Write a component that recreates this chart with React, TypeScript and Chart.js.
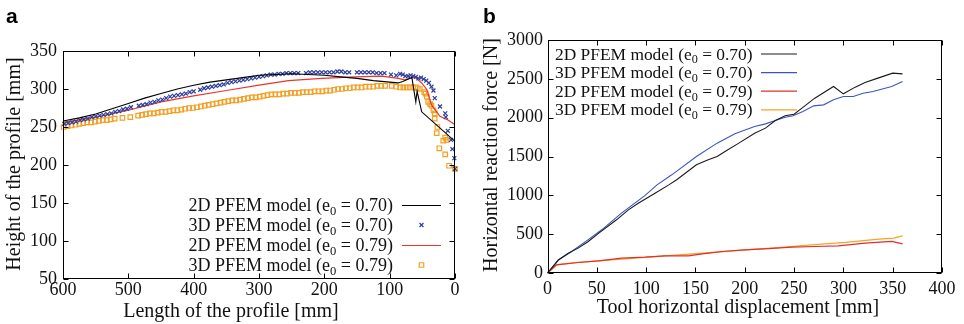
import { useEffect, useRef } from 'react';
import { Chart, registerables } from 'chart.js';

Chart.register(...registerables);

const SERIF = "'Liberation Serif', 'Times New Roman', serif";
const SANS = "'Liberation Sans', Arial, sans-serif";

type Pt = [number, number];

// ---------- Panel a : profile height vs length ----------
const seriesLabels = [
  '2D PFEM model (e₀ = 0.70)',
  '3D PFEM model (e₀ = 0.70)',
  '2D PFEM model (e₀ = 0.79)',
  '3D PFEM model (e₀ = 0.79)',
];
const profileXTicks = [600, 500, 400, 300, 200, 100, 0];
const profileYTicks = [50, 100, 150, 200, 250, 300, 350];

const profile2D070: Pt[] = [
  [600, 258], [575, 262], [550, 267], [525, 274], [500, 281], [475, 288], [450, 294], [425, 300],
  [400, 305], [375, 309], [350, 312], [325, 315], [300, 318], [275, 319], [250, 320], [225, 319],
  [200, 318], [175, 316], [150, 314], [125, 311], [100, 309], [87, 308], [80, 310], [66, 315],
  [60, 283], [58, 297], [51, 270], [0, 231],
];
const profile3D070: Pt[] = [
  [598, 254], [592, 255], [586, 256], [580, 257], [574, 259], [568, 260], [562, 261], [556, 263],
  [550, 264], [544, 265], [538, 266], [532, 267], [526, 268], [520, 270], [514, 271], [508, 273],
  [502, 274], [496, 276], [484, 278], [478, 279], [472, 280], [466, 282], [460, 283], [454, 285],
  [448, 286], [442, 288], [436, 290], [430, 291], [424, 292], [418, 293], [412, 294], [406, 296],
  [400, 297], [390, 299], [384, 301], [378, 302], [372, 303], [366, 304], [360, 305], [354, 306],
  [348, 308], [342, 309], [336, 310], [330, 311], [324, 312], [318, 313], [312, 314], [306, 315],
  [300, 316], [294, 317], [288, 318], [282, 319], [276, 319], [270, 320], [264, 320], [258, 321],
  [252, 321], [246, 321], [240, 321], [228, 321], [222, 322], [216, 322], [210, 322], [204, 322],
  [198, 322], [192, 322], [186, 322], [180, 323], [174, 323], [168, 322], [162, 322], [150, 322],
  [144, 322], [138, 322], [132, 322], [126, 322], [120, 321], [114, 321], [108, 321], [98, 319],
  [90, 318], [84, 320], [80, 319], [76, 317], [72, 317], [68, 318], [64, 317], [60, 316],
  [56, 314], [52, 315], [48, 313], [44, 311], [40, 308], [36, 303], [33, 298], [31, 288],
  [23, 277], [15, 268], [14, 263], [11, 245], [6, 233], [4, 221], [1, 209], [0, 195],
];
const profile2D079: Pt[] = [
  [600, 256], [550, 263], [500, 272], [450, 283], [400, 291], [350, 298], [300, 305], [255, 311],
  [204, 314], [153, 316], [112, 317], [87, 314], [77, 312], [62, 316], [51, 308], [43, 299],
  [36, 279], [23, 264], [10, 259], [0, 253],
];
const profile3D079: Pt[] = [
  [599, 250], [593, 251], [587, 252], [581, 253], [575, 254], [569, 255], [563, 256], [557, 256],
  [551, 257], [545, 258], [539, 259], [533, 259], [527, 260], [521, 261], [509, 262], [497, 263],
  [485, 265], [479, 266], [473, 267], [467, 268], [461, 268], [455, 269], [449, 270], [443, 270],
  [437, 271], [431, 272], [425, 272], [419, 273], [413, 274], [407, 275], [401, 275], [395, 276],
  [389, 277], [383, 278], [377, 279], [371, 280], [365, 281], [359, 282], [353, 283], [347, 284],
  [341, 285], [335, 285], [329, 286], [323, 287], [317, 288], [311, 289], [305, 289], [299, 290],
  [293, 291], [287, 292], [281, 293], [275, 293], [269, 293], [263, 294], [257, 294], [251, 295],
  [245, 295], [239, 295], [233, 296], [227, 296], [221, 296], [215, 297], [209, 297], [203, 297],
  [197, 298], [191, 298], [185, 299], [179, 300], [173, 300], [167, 301], [161, 301], [155, 302],
  [149, 302], [143, 302], [137, 303], [131, 303], [125, 303], [119, 304], [113, 304], [107, 304],
  [97, 304], [90, 303], [84, 302], [79, 302], [74, 302], [69, 302], [64, 302], [60, 302],
  [57, 301], [54, 300], [47, 296], [45, 294], [43, 290], [41, 283], [38, 280], [36, 278],
  [33, 272], [31, 268], [31, 261], [27, 250], [28, 242], [15, 236], [13, 233], [18, 232],
  [24, 222], [15, 214], [9, 199], [0, 195],
];

// ---------- Panel b : horizontal reaction force vs displacement ----------
const forceXTicks = [0, 50, 100, 150, 200, 250, 300, 350, 400];
const forceYTicks = [0, 500, 1000, 1500, 2000, 2500, 3000];

const force2D070: Pt[] = [
  [0, 0], [11, 167], [21, 255], [31, 320], [41, 403], [52, 513], [70, 685], [82, 813], [92, 899],
  [109, 1028], [123, 1135], [131, 1200], [151, 1393], [163, 1457], [172, 1500], [180, 1564],
  [194, 1672], [210, 1800], [221, 1865], [231, 1963], [241, 2024], [250, 2045], [258, 2123],
  [271, 2251], [290, 2401], [300, 2307], [312, 2393], [322, 2453], [335, 2509], [350, 2573],
  [360, 2564],
];
const force3D070: Pt[] = [
  [0, 0], [11, 167], [23, 264], [41, 427], [55, 556], [75, 771], [99, 1000], [111, 1135],
  [126, 1264], [151, 1500], [172, 1672], [190, 1792], [210, 1886], [221, 1920], [231, 1963],
  [241, 2006], [249, 2024], [259, 2079], [270, 2152], [280, 2165], [290, 2230], [300, 2272],
  [310, 2272], [320, 2315], [330, 2337], [349, 2401], [360, 2466],
];
const force2D079: Pt[] = [
  [0, 0], [9, 105], [31, 135], [52, 156], [75, 191], [99, 204], [119, 221], [143, 221], [157, 247],
  [177, 277], [200, 298], [224, 315], [248, 333], [271, 341], [295, 350], [322, 384], [349, 406],
  [360, 376],
];
const force3D079: Pt[] = [
  [0, 0], [10, 109], [31, 138], [65, 170], [99, 200], [133, 234], [167, 264], [200, 298],
  [234, 328], [268, 363], [302, 393], [336, 436], [351, 448], [360, 479],
];

const toXY = (pts: Pt[]) => pts.map(([x, y]) => ({ x, y }));

function drawRich(ctx: CanvasRenderingContext2D, text: string, x: number, baseline: number, size: number, align: 'left' | 'right') {
  const i = text.indexOf('₀');
  const a = i >= 0 ? text.slice(0, i) : text;
  const b = i >= 0 ? text.slice(i + 1) : '';
  const sub = i >= 0 ? '0' : '';
  ctx.font = `${size}px ${SERIF}`;
  const wa = ctx.measureText(a).width;
  const wb = ctx.measureText(b).width;
  ctx.font = `${size * 0.7}px ${SERIF}`;
  const ws = ctx.measureText(sub).width;
  const total = wa + ws + wb;
  const x0 = align === 'right' ? x - total : x;
  ctx.textAlign = 'left';
  ctx.textBaseline = 'alphabetic';
  ctx.font = `${size}px ${SERIF}`;
  ctx.fillText(a, x0, baseline);
  ctx.font = `${size * 0.7}px ${SERIF}`;
  ctx.fillText(sub, x0 + wa, baseline + size * 0.22);
  ctx.font = `${size}px ${SERIF}`;
  ctx.fillText(b, x0 + wa + ws, baseline);
}

function drawMarker(ctx: CanvasRenderingContext2D, style: string, cx: number, cy: number, r: number) {
  const h = r * Math.SQRT1_2;
  ctx.beginPath();
  if (style === 'crossRot') {
    ctx.moveTo(cx - h, cy - h); ctx.lineTo(cx + h, cy + h);
    ctx.moveTo(cx - h, cy + h); ctx.lineTo(cx + h, cy - h);
  } else {
    ctx.rect(cx - h, cy - h, 2 * h, 2 * h);
  }
  ctx.stroke();
}

const framePlugin = {
  id: 'frame',
  afterDraw(chart: any, _args: any, opts: any) {
    const { ctx, chartArea: a, scales } = chart;
    const xs = scales.x, ys = scales.y;
    ctx.save();
    ctx.strokeStyle = '#000';
    ctx.lineWidth = 1;
    const L = Math.round(a.left) + 0.5, R = Math.round(a.right) - 0.5;
    const T = Math.round(a.top) + 0.5, B = Math.round(a.bottom) - 0.5;
    ctx.strokeRect(L, T, R - L, B - T);
    const tl = opts.tickLen;
    ctx.beginPath();
    xs.ticks.forEach((t: any) => {
      const px = Math.round(xs.getPixelForValue(t.value)) + 0.5;
      ctx.moveTo(px, B); ctx.lineTo(px, B - tl);
      ctx.moveTo(px, T); ctx.lineTo(px, T + tl);
    });
    ys.ticks.forEach((t: any) => {
      const py = Math.round(ys.getPixelForValue(t.value)) + 0.5;
      ctx.moveTo(L, py); ctx.lineTo(L + tl, py);
      ctx.moveTo(R, py); ctx.lineTo(R - tl, py);
    });
    ctx.stroke();

    // axis titles
    ctx.fillStyle = '#111';
    ctx.font = `${opts.titleSize}px ${SERIF}`;
    ctx.textAlign = 'center';
    ctx.textBaseline = 'alphabetic';
    ctx.fillText(opts.xTitle.text, opts.xTitle.x, opts.xTitle.y);
    ctx.save();
    ctx.translate(opts.yTitle.x, opts.yTitle.y);
    ctx.rotate(-Math.PI / 2);
    ctx.fillText(opts.yTitle.text, 0, 0);
    ctx.restore();

    // panel letter
    ctx.fillStyle = '#000';
    ctx.font = `bold 21px ${SANS}`;
    ctx.textAlign = 'left';
    ctx.fillText(opts.panel.text, opts.panel.x, opts.panel.y);

    // legend
    const lg = opts.legend;
    chart.data.datasets.forEach((ds: any, i: number) => {
      const cy = lg.y0 + i * lg.dy;
      ctx.fillStyle = '#111';
      drawRich(ctx, ds.label, lg.textX, cy + 6, lg.size, lg.align);
      ctx.strokeStyle = ds.borderColor;
      ctx.lineWidth = ds.borderWidth;
      if (ds.showLine) {
        ctx.beginPath();
        ctx.moveTo(lg.lineX1, cy + 0.5);
        ctx.lineTo(lg.lineX2, cy + 0.5);
        ctx.stroke();
      } else {
        drawMarker(ctx, ds.pointStyle, (lg.lineX1 + lg.lineX2) / 2, cy, ds.pointRadius);
      }
    });
    ctx.restore();
  },
};

const tickFont = { size: 18, family: SERIF };

function makeScale(min: number, max: number, ticksList: number[], extra: any) {
  return {
    type: 'linear',
    min,
    max,
    grid: { display: false, drawTicks: false },
    border: { display: false },
    afterBuildTicks: (s: any) => { s.ticks = ticksList.map((v) => ({ value: v })); },
    ...extra,
    ticks: {
      color: '#111', font: tickFont, maxRotation: 0, autoSkip: false,
      callback: (v: any) => String(v),
      ...(extra.ticks || {}),
    },
  };
}

function ChartPanel({ config, left }: { config: any; left: number }) {
  const ref = useRef<HTMLCanvasElement>(null);
  useEffect(() => {
    if (!ref.current) return;
    const chart = new Chart(ref.current, config);
    return () => chart.destroy();
  }, [config]);
  return (
    <canvas
      ref={ref}
      width={482}
      height={324}
      style={{ position: 'absolute', left, top: 0, width: 482, height: 324 }}
    />
  );
}

const lineDs = (label: string, pts: Pt[], color: string, width = 1.2) => ({
  label, data: toXY(pts), showLine: true, borderColor: color, backgroundColor: color,
  borderWidth: width, pointRadius: 0, tension: 0, clip: false,
});
const pointDs = (label: string, pts: Pt[], color: string, style: string, r: number) => ({
  label, data: toXY(pts), showLine: false, borderColor: color, backgroundColor: 'rgba(0,0,0,0)',
  pointStyle: style, pointRadius: r, pointBorderWidth: 1.2, borderWidth: 1.2, clip: false,
});

const leftConfig: any = {
  type: 'scatter',
  data: {
    datasets: [
      lineDs(seriesLabels[0], profile2D070, '#000000', 1.1),
      pointDs(seriesLabels[1], profile3D070, '#2c3d9c', 'crossRot', 2.8),
      lineDs(seriesLabels[2], profile2D079, '#e8362c', 1.2),
      pointDs(seriesLabels[3], profile3D079, '#f3a025', 'rect', 3.2),
    ],
  },
  options: {
    responsive: false,
    animation: false,
    events: [],
    layout: { padding: { left: 0, right: 27, top: 51, bottom: 0 } },
    plugins: {
      legend: { display: false },
      tooltip: { enabled: false },
      frame: {
        tickLen: 5,
        titleSize: 20,
        xTitle: { text: 'Length of the profile [mm]', x: 231, y: 317 },
        yTitle: { text: 'Height of the profile [mm]', x: 20, y: 164 },
        panel: { text: 'a', x: 6, y: 23 },
        legend: { textX: 393, lineX1: 402, lineX2: 441, y0: 205, dy: 20, size: 18, align: 'right' },
      },
    },
    scales: {
      x: makeScale(0, 600, profileXTicks, {
        reverse: true,
        afterFit: (s: any) => { s.height = 45; },
        ticks: { padding: 0 },
      }),
      y: makeScale(50, 350, profileYTicks, {
        afterFit: (s: any) => { s.width = 63; },
        ticks: { padding: 6 },
      }),
    },
  },
  plugins: [framePlugin],
};

const rightConfig: any = {
  type: 'scatter',
  data: {
    datasets: [
      lineDs(seriesLabels[0], force2D070, '#1a1a1a', 1.1),
      lineDs(seriesLabels[1], force3D070, '#3a55c4', 1.1),
      lineDs(seriesLabels[2], force2D079, '#e0302a', 1.2),
      lineDs(seriesLabels[3], force3D079, '#f7a22c', 1.3),
    ],
  },
  options: {
    responsive: false,
    animation: false,
    events: [],
    layout: { padding: { left: 0, right: 22, top: 40, bottom: 0 } },
    plugins: {
      legend: { display: false },
      tooltip: { enabled: false },
      frame: {
        tickLen: 5,
        titleSize: 20,
        xTitle: { text: 'Tool horizontal displacement [mm]', x: 256, y: 313 },
        yTitle: { text: 'Horizontal reaction force [N]', x: 15, y: 155 },
        panel: { text: 'b', x: 1, y: 23 },
        legend: { textX: 73, lineX1: 279, lineX2: 315, y0: 53.5, dy: 18.6, size: 17.4, align: 'left' },
      },
    },
    scales: {
      x: makeScale(0, 400, forceXTicks, {
        afterFit: (s: any) => { s.height = 51; },
        ticks: { padding: 5 },
      }),
      y: makeScale(0, 3000, forceYTicks, {
        afterFit: (s: any) => { s.width = 65.5; },
        ticks: { padding: 4.5 },
      }),
    },
  },
  plugins: [framePlugin],
};

export default function App() {
  return (
    <div style={{ position: 'fixed', left: 0, top: 0, width: 964, height: 324, background: '#fff' }}>
      <ChartPanel config={leftConfig} left={0} />
      <ChartPanel config={rightConfig} left={482} />
    </div>
  );
}
